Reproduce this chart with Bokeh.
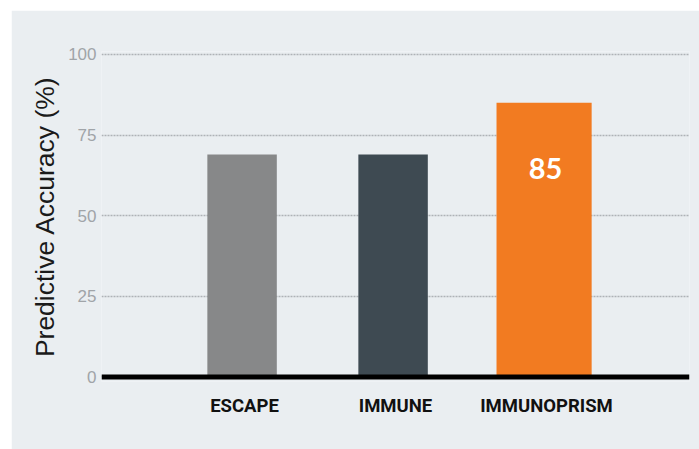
from bokeh.plotting import figure
from bokeh.models import ColumnDataSource, FactorRange, Range1d, FixedTicker, Span
from bokeh.transform import dodge
from bokeh.core.properties import value
from bokeh.embed import file_html
from bokeh.resources import INLINE

# ---- data ----
categories = ["ESCAPE", "IMMUNE", "IMMUNOPRISM"]
accuracy = [69, 69, 85]
y_ticks = [0, 25, 50, 75, 100]

# ---- styles ----
bar_colors = ["#878889", "#3e4a52", "#f27b21"]
bar_widths = [0.46, 0.46, 0.63]
panel = "#eaeef1"

src = ColumnDataSource(dict(cat=categories, val=accuracy, color=bar_colors, w=bar_widths))

xr = FactorRange(factors=categories, range_padding=0.298)
p = figure(
    x_range=xr,
    y_range=Range1d(-1.4, 100.9),
    width=688, height=439,
    output_backend="svg", toolbar_location=None,
    min_border_left=90, min_border_right=10, min_border_top=41, min_border_bottom=68,
    background_fill_color=panel, border_fill_color=panel,
)
p.margin = (10, 0, 0, 11)
p.outline_line_color = None

p.vbar(x=dodge("cat", -0.016, range=xr), top="val", width="w", bottom=0, source=src,
       fill_color="color", line_color=None)

# value label on the highlighted bar
p.text(x=[categories[2]], y=[accuracy[2]], text=[str(accuracy[2])],
       text_color="white", text_font=value("Lato"), text_font_size="29px",
       text_font_style="bold",
       text_align="center", text_baseline="middle", y_offset=66, x_offset=-1)

p.add_layout(Span(location=0, dimension="width", line_color="black", line_width=5))

# grid
p.xgrid.grid_line_color = None
p.ygrid.ticker = FixedTicker(ticks=y_ticks)
p.ygrid.grid_line_color = "#aeb2b6"
p.ygrid.grid_line_dash = "2 1"
p.ygrid.grid_line_width = 1.4

# y axis
p.yaxis.ticker = FixedTicker(ticks=y_ticks)
p.yaxis.axis_line_color = None
p.yaxis.major_tick_line_color = None
p.yaxis.minor_tick_line_color = None
p.yaxis.major_tick_out = 0
p.yaxis.major_label_standoff = 5
p.yaxis.major_label_text_color = "#a0a4a8"
p.yaxis.major_label_text_font = "Liberation Sans"
p.yaxis.major_label_text_font_size = "17px"
p.yaxis.axis_label = "Predictive Accuracy (%)"
p.yaxis.axis_label_text_font = "Liberation Sans"
p.yaxis.axis_label_text_font_style = "normal"
p.yaxis.axis_label_text_font_size = "26.5px"
p.yaxis.axis_label_text_color = "#1a1a1a"
p.yaxis.axis_label_standoff = 5

# x axis
p.xaxis.axis_line_color = None
p.xaxis.major_tick_line_color = None
p.xaxis.major_tick_out = 0
p.xaxis.major_label_standoff = 13
p.xaxis.major_label_text_font = "Roboto"
p.xaxis.major_label_text_font_style = "bold"
p.xaxis.major_label_text_font_size = "18.5px"
p.xaxis.major_label_text_color = "#111111"

open("out.html", "w").write(file_html(p, INLINE))
